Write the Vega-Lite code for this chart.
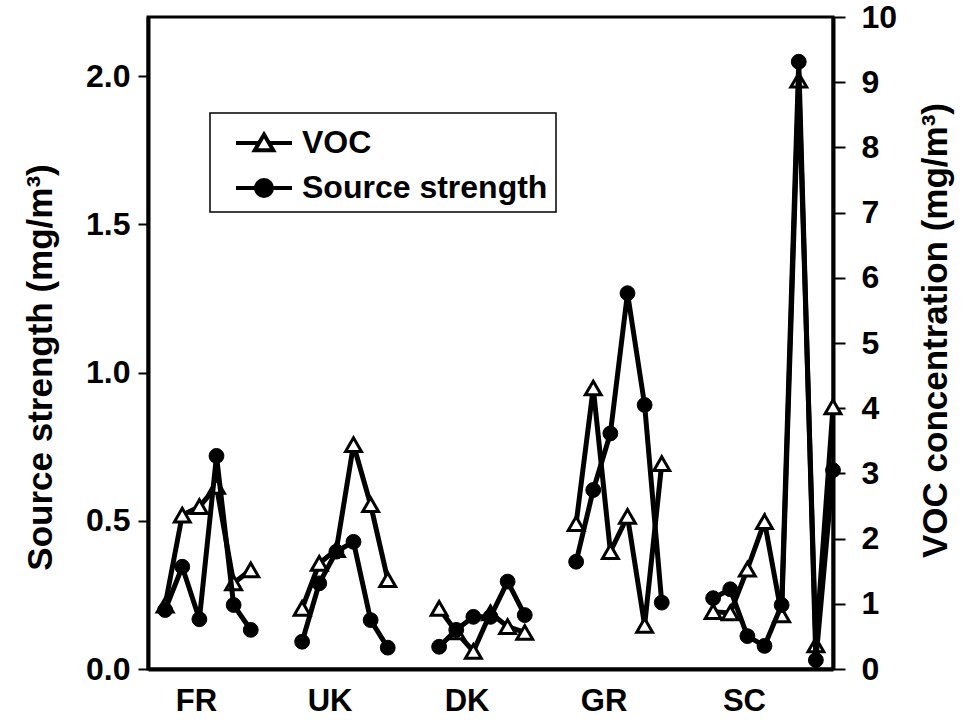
{
  "$schema": "https://vega.github.io/schema/vega-lite/v6.json",
  "width": 685,
  "height": 652,
  "autosize": {"type": "none"},
  "padding": {"left": 148, "top": 17, "right": 132, "bottom": 55},
  "background": "white",
  "config": {
    "font": "Liberation Sans",
    "view": {"stroke": "black", "strokeWidth": 3},
    "axis": {
      "grid": false,
      "labelFont": "Liberation Sans",
      "labelFontWeight": "bold",
      "labelFontSize": 32,
      "labelColor": "black",
      "titleFont": "Liberation Sans",
      "titleFontWeight": "bold",
      "titleFontSize": 35,
      "titleColor": "black",
      "domainColor": "black",
      "domainWidth": 4,
      "tickColor": "black",
      "tickWidth": 2
    }
  },
  "data": {
    "values": [
      {"country": "FR", "idx": 1, "voc": 0.98, "ss": 0.199},
      {"country": "FR", "idx": 2, "voc": 2.36, "ss": 0.345},
      {"country": "FR", "idx": 3, "voc": 2.49, "ss": 0.168},
      {"country": "FR", "idx": 4, "voc": 2.80, "ss": 0.719},
      {"country": "FR", "idx": 5, "voc": 1.32, "ss": 0.216},
      {"country": "FR", "idx": 6, "voc": 1.52, "ss": 0.132},
      {"country": "UK", "idx": 9, "voc": 0.93, "ss": 0.092},
      {"country": "UK", "idx": 10, "voc": 1.62, "ss": 0.289},
      {"country": "UK", "idx": 11, "voc": 1.83, "ss": 0.396},
      {"country": "UK", "idx": 12, "voc": 3.44, "ss": 0.429},
      {"country": "UK", "idx": 13, "voc": 2.52, "ss": 0.165},
      {"country": "UK", "idx": 14, "voc": 1.37, "ss": 0.072},
      {"country": "DK", "idx": 17, "voc": 0.93, "ss": 0.075},
      {"country": "DK", "idx": 18, "voc": 0.57, "ss": 0.132},
      {"country": "DK", "idx": 19, "voc": 0.27, "ss": 0.176},
      {"country": "DK", "idx": 20, "voc": 0.86, "ss": 0.176},
      {"country": "DK", "idx": 21, "voc": 0.65, "ss": 0.295},
      {"country": "DK", "idx": 22, "voc": 0.56, "ss": 0.182},
      {"country": "GR", "idx": 25, "voc": 2.23, "ss": 0.362},
      {"country": "GR", "idx": 26, "voc": 4.31, "ss": 0.604},
      {"country": "GR", "idx": 27, "voc": 1.80, "ss": 0.795},
      {"country": "GR", "idx": 28, "voc": 2.34, "ss": 1.268},
      {"country": "GR", "idx": 29, "voc": 0.67, "ss": 0.891},
      {"country": "GR", "idx": 30, "voc": 3.15, "ss": 0.224},
      {"country": "SC", "idx": 33, "voc": 0.88, "ss": 0.239},
      {"country": "SC", "idx": 34, "voc": 0.86, "ss": 0.269},
      {"country": "SC", "idx": 35, "voc": 1.53, "ss": 0.111},
      {"country": "SC", "idx": 36, "voc": 2.26, "ss": 0.078},
      {"country": "SC", "idx": 37, "voc": 0.83, "ss": 0.216},
      {"country": "SC", "idx": 38, "voc": 9.03, "ss": 2.049},
      {"country": "SC", "idx": 39, "voc": 0.37, "ss": 0.03},
      {"country": "SC", "idx": 40, "voc": 4.02, "ss": 0.671}
    ]
  },
  "layer": [
    {
      "layer": [
        {
          "mark": {"type": "line", "strokeWidth": 5},
          "encoding": {
            "x": {
              "field": "idx", "type": "quantitative",
              "scale": {"domain": [0, 40], "nice": false, "zero": false},
              "axis": {
                "title": null,
                "values": [2.8, 10.6, 18.6, 26.6, 34.8],
                "labelExpr": "datum.value < 6 ? 'FR' : datum.value < 14 ? 'UK' : datum.value < 22 ? 'DK' : datum.value < 30 ? 'GR' : 'SC'",
                "ticks": false,
                "labelPadding": 17,
                "labelFontSize": 31
              }
            },
            "y": {
              "field": "voc", "type": "quantitative",
              "scale": {"domain": [0, 10], "nice": false},
              "axis": {
                "orient": "right",
                "title": "VOC concentration (mg/m³)",
                "values": [0, 1, 2, 3, 4, 5, 6, 7, 8, 9, 10],
                "format": "d",
                "tickSize": 12,
                "labelPadding": 16,
                "titleAngle": -90,
                "titleAlign": "center",
                "titleBaseline": "middle",
                "titleX": 102,
                "titleY": 313
              }
            },
            "detail": {"field": "country"},
            "color": {
              "datum": "VOC",
              "scale": {"domain": ["VOC", "Source strength"], "range": ["black", "black"]},
              "legend": {
                "orient": "none",
                "legendX": 62,
                "legendY": 96,
                "title": null,
                "direction": "vertical",
                "strokeColor": "black",
                "fillColor": "white",
                "padding": 8,
                "labelFont": "Liberation Sans",
                "labelFontWeight": "bold",
                "labelFontSize": 32,
                "labelColor": "black",
                "labelOffset": 16,
                "labelLimit": 400,
                "symbolOffset": 24,
                "symbolSize": 1600,
                "symbolStrokeWidth": 4,
                "symbolStrokeColor": "black",
                "rowPadding": 7,
                "encode": {
                  "legend": {
                    "update": {
                      "stroke": {"value": "black"},
                      "strokeWidth": {"value": 1.5}
                    }
                  },
                  "symbols": {
                    "update": {
                      "shape": {"signal": "datum.value === 'VOC' ? 'M-1.4,0H-0.24M0.24,0H1.4M0,-0.42L0.46,0.36L-0.46,0.36Z' : 'M-1.4,0H1.4M-0.4,0A0.4,0.4,0,1,0,0.4,0A0.4,0.4,0,1,0,-0.4,0Z'"},
                      "fill": {"signal": "datum.value === 'VOC' ? 'white' : 'black'"},
                      "stroke": {"value": "black"},
                      "strokeWidth": {"value": 4},
                      "size": {"value": 1600},
                      "opacity": {"value": 1}
                    }
                  }
                }
              }
            }
          }
        },
        {
          "mark": {"type": "point", "shape": "triangle-up", "filled": true, "fill": "white", "stroke": "black", "strokeWidth": 3, "size": 250, "opacity": 1},
          "encoding": {
            "x": {"field": "idx", "type": "quantitative"},
            "y": {"field": "voc", "type": "quantitative"}
          }
        }
      ]
    },
    {
      "layer": [
        {
          "mark": {"type": "line", "strokeWidth": 5},
          "encoding": {
            "x": {"field": "idx", "type": "quantitative"},
            "y": {
              "field": "ss", "type": "quantitative",
              "scale": {"domain": [0, 2.2], "nice": false},
              "axis": {
                "orient": "left",
                "title": "Source strength (mg/m³)",
                "values": [0, 0.5, 1, 1.5, 2],
                "format": ".1f",
                "tickSize": 10,
                "labelPadding": 8,
                "titleAngle": -90,
                "titleAlign": "center",
                "titleBaseline": "middle",
                "titleX": -108,
                "titleY": 350
              }
            },
            "detail": {"field": "country"},
            "color": {
              "datum": "Source strength",
              "scale": {"domain": ["VOC", "Source strength"], "range": ["black", "black"]}
            }
          }
        },
        {
          "mark": {"type": "point", "shape": "circle", "filled": true, "fill": "black", "stroke": "black", "strokeWidth": 1, "size": 220, "opacity": 1},
          "encoding": {
            "x": {"field": "idx", "type": "quantitative"},
            "y": {"field": "ss", "type": "quantitative"}
          }
        }
      ]
    }
  ],
  "resolve": {"scale": {"y": "independent"}}
}
